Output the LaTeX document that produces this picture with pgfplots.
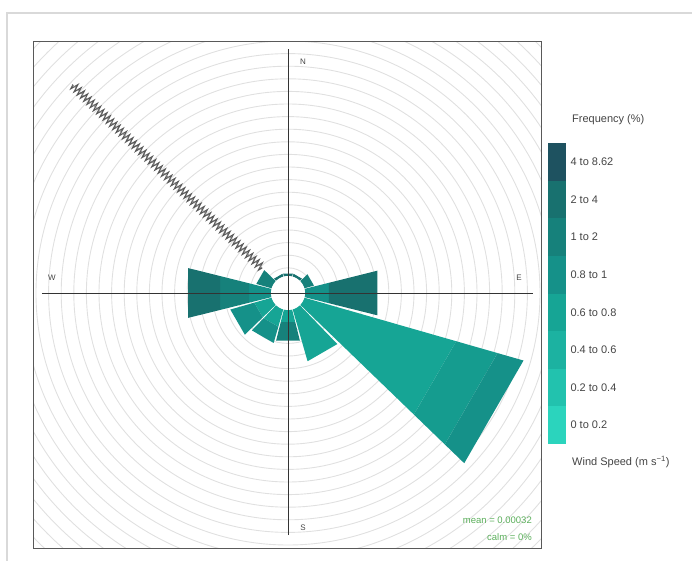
\documentclass[border=0pt]{standalone}
\usepackage{pgfplots}
\pgfplotsset{compat=1.18}
\usepackage{fontspec}
\setmainfont{Liberation Sans}
\usetikzlibrary{decorations.pathmorphing}
\definecolor{c1}{HTML}{2BD4BD}
\definecolor{c2}{HTML}{22C2AE}
\definecolor{c3}{HTML}{1CB2A1}
\definecolor{c4}{HTML}{16A595}
\definecolor{c45}{HTML}{159C8F}
\definecolor{c5}{HTML}{159189}
\definecolor{c6}{HTML}{16817B}
\definecolor{c7}{HTML}{18716F}
\definecolor{c8}{HTML}{1E5260}
\definecolor{txt}{HTML}{444444}
\definecolor{grn}{HTML}{5AAE5A}
\begin{document}
\begin{tikzpicture}[x=1pt,y=1pt]
\path[use as bounding box] (-288pt,-268pt) rectangle (404pt,293pt);
% outer panel
\draw[black!15, line width=1.5pt] (-281pt,-268pt) -- (-281pt,280pt) -- (404pt,280pt);
\begin{axis}[at={(0pt,0pt)}, anchor=origin, x=1pt, y=1pt,
  xmin=-254, xmax=253, ymin=-255, ymax=251, axis on top,
  axis line style={draw=black!65, line width=1pt},
  xtick=\empty, ytick=\empty, clip=true]
% grid circles
\pgfplotsinvokeforeach{2,...,32}{\draw[black!12, line width=0.9pt] (axis cs:0,0) circle[radius=#1*12.6];}
% wedge 120 deg (SE)
\addplot[fill=c4, draw=none, data cs=polar] coordinates {(-44,17) (-16,17) (-16,175) (-44,175)} -- cycle;
\addplot[fill=c45, draw=none, data cs=polar] coordinates {(-44,175) (-16,175) (-16,218) (-44,218)} -- cycle;
\addplot[fill=c5, draw=none, data cs=polar] coordinates {(-44,218) (-16,218) (-16,245) (-44,245)} -- cycle;
% wedge 90 deg (E)
\addplot[fill=c5, draw=none, data cs=polar] coordinates {(-14,17) (14,17) (14,42) (-14,42)} -- cycle;
\addplot[fill=c7, draw=none, data cs=polar] coordinates {(-14,42) (14,42) (14,92) (-14,92)} -- cycle;
% wedge 150 deg
\addplot[fill=c4, draw=none, data cs=polar] coordinates {(-74,17) (-46,17) (-46,71) (-74,71)} -- cycle;
% wedge 180 deg (S)
\addplot[fill=c4, draw=none, data cs=polar] coordinates {(-104,17) (-76,17) (-76,30) (-104,30)} -- cycle;
\addplot[fill=c6, draw=none, data cs=polar] coordinates {(-104,30) (-76,30) (-76,49) (-104,49)} -- cycle;
% wedge 210 deg
\addplot[fill=c4, draw=none, data cs=polar] coordinates {(-134,17) (-106,17) (-106,35) (-134,35)} -- cycle;
\addplot[fill=c5, draw=none, data cs=polar] coordinates {(-134,35) (-106,35) (-106,52) (-134,52)} -- cycle;
% wedge 240 deg
\addplot[fill=c4, draw=none, data cs=polar] coordinates {(-164,17) (-136,17) (-136,35) (-164,35)} -- cycle;
\addplot[fill=c5, draw=none, data cs=polar] coordinates {(-164,35) (-136,35) (-136,60) (-164,60)} -- cycle;
% wedge 270 deg (W)
\addplot[fill=c5, draw=none, data cs=polar] coordinates {(166,17) (194,17) (194,40) (166,40)} -- cycle;
\addplot[fill=c6, draw=none, data cs=polar] coordinates {(166,40) (194,40) (194,70) (166,70)} -- cycle;
\addplot[fill=c7, draw=none, data cs=polar] coordinates {(166,70) (194,70) (194,103) (166,103)} -- cycle;
% wedge 300 deg
\addplot[fill=c6, draw=none, data cs=polar] coordinates {(136,17) (164,17) (164,33) (136,33)} -- cycle;
% wedges 330, 0, 30 deg
\addplot[fill=c7, draw=none, data cs=polar] coordinates {(106,17) (134,17) (134,20) (106,20)} -- cycle;
\addplot[fill=c7, draw=none, data cs=polar] coordinates {(76,17) (104,17) (104,20) (76,20)} -- cycle;
\addplot[fill=c7, draw=none, data cs=polar] coordinates {(46,17) (74,17) (74,20) (46,20)} -- cycle;
% wedge 60 deg
\addplot[fill=c6, draw=none, data cs=polar] coordinates {(16,17) (44,17) (44,27) (16,27)} -- cycle;
% hole
\fill[white] (axis cs:0,0) circle[radius=17];
% axis cross
\addplot[black!80, line width=0.8pt] coordinates {(-246,0) (245,0)};
\addplot[black!80, line width=0.8pt] coordinates {(0,-242) (0,244)};
% outlier spike
\addplot[black!65, line width=1.1pt, data cs=polar, decorate,
  decoration={zigzag, segment length=4.5pt, amplitude=4pt}] coordinates {(136,36) (136,300)};
\addplot[black!50, line width=0.6pt, data cs=polar] coordinates {(136,36) (136,300)};
% compass labels
\node[txt, font=\fontsize{8}{9}\selectfont] at (axis cs:15,231) {N};
\node[txt, font=\fontsize{8}{9}\selectfont] at (axis cs:15,-235) {S};
\node[txt, font=\fontsize{8}{9}\selectfont] at (axis cs:-236,15) {W};
\node[txt, font=\fontsize{8}{9}\selectfont] at (axis cs:231,15) {E};
\node[grn, anchor=east, font=\fontsize{9.5}{11}\selectfont, inner sep=0pt] at (axis cs:244,-227) {mean = 0.00032};
\node[grn, anchor=east, font=\fontsize{9.5}{11}\selectfont, inner sep=0pt] at (axis cs:244,-244) {calm = 0\%};
\end{axis}
% colour key
\begin{axis}[at={(260pt,-151pt)}, anchor=south west, width=18pt, height=301pt, scale only axis,
  xmin=0, xmax=1, ymin=0, ymax=8, axis line style={draw=none},
  xtick=\empty, ytick={0.5,1.5,2.5,3.5,4.5,5.5,6.5,7.5},
  yticklabels={0 to 0.2, 0.2 to 0.4, 0.4 to 0.6, 0.6 to 0.8, 0.8 to 1, 1 to 2, 2 to 4, 4 to 8.62},
  yticklabel pos=right, major tick length=0pt,
  yticklabel style={txt, font=\fontsize{11}{13}\selectfont, anchor=west, xshift=1pt}]
\addplot[fill=c1, draw=none] coordinates {(0,0) (1,0) (1,1) (0,1)} -- cycle;
\addplot[fill=c2, draw=none] coordinates {(0,1) (1,1) (1,2) (0,2)} -- cycle;
\addplot[fill=c3, draw=none] coordinates {(0,2) (1,2) (1,3) (0,3)} -- cycle;
\addplot[fill=c4, draw=none] coordinates {(0,3) (1,3) (1,4) (0,4)} -- cycle;
\addplot[fill=c5, draw=none] coordinates {(0,4) (1,4) (1,5) (0,5)} -- cycle;
\addplot[fill=c6, draw=none] coordinates {(0,5) (1,5) (1,6) (0,6)} -- cycle;
\addplot[fill=c7, draw=none] coordinates {(0,6) (1,6) (1,7) (0,7)} -- cycle;
\addplot[fill=c8, draw=none] coordinates {(0,7) (1,7) (1,8) (0,8)} -- cycle;
\end{axis}
\node[txt, anchor=west, font=\fontsize{11}{13}\selectfont, inner sep=0pt] at (284pt,173pt) {Frequency (\%)};
\node[txt, anchor=west, font=\fontsize{11}{13}\selectfont, inner sep=0pt] at (284pt,-169pt) {Wind Speed (m s\textsuperscript{\char"2212 1})};
\end{tikzpicture}
\end{document}
